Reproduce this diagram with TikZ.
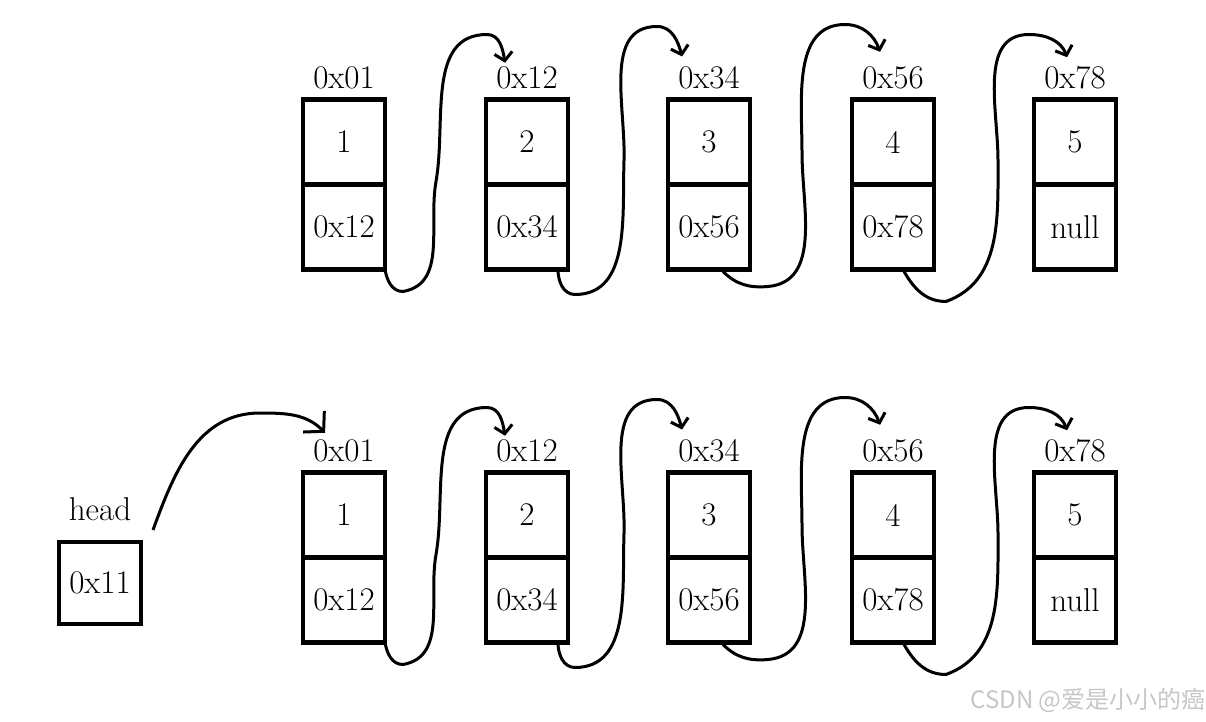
\documentclass[tikz,border=0pt]{standalone}
\usepackage{fontspec}
\newfontfamily\cjkfont{Noto Sans CJK SC}
\usetikzlibrary{positioning, arrows.meta}
\tikzset{
  cell/.style={
    draw,
    line width=4.5pt,
    minimum width=82pt,
    minimum height=85pt,
    inner sep=0pt,
    outer sep=0pt,
    font=\fontsize{33}{38}\selectfont
  },
  addr/.style={
    inner sep=0pt,
    font=\fontsize{33}{38}\selectfont
  },
  link/.style={
    line width=3pt,
    -{Straight Barb[length=8pt,width=18pt,line width=3pt]}
  }
}

\begin{document}
\begin{tikzpicture}[x=1pt, y=1pt]
  \useasboundingbox (0,0) rectangle (1206,721);

  % list without head
  \node[cell] (t1) at (344,579) {1};
  \node[cell, below=0pt of t1] (t1p) {0x12};
  \node[addr, above=10pt of t1] (t1a) {0x01};
  \node[cell] (t2) at (527,579) {2};
  \node[cell, below=0pt of t2] (t2p) {0x34};
  \node[addr, above=10pt of t2] (t2a) {0x12};
  \node[cell] (t3) at (709,579) {3};
  \node[cell, below=0pt of t3] (t3p) {0x56};
  \node[addr, above=10pt of t3] (t3a) {0x34};
  \node[cell] (t4) at (893,579) {4};
  \node[cell, below=0pt of t4] (t4p) {0x78};
  \node[addr, above=10pt of t4] (t4a) {0x56};
  \node[cell] (t5) at (1075,579) {5};
  \node[cell, below=0pt of t5] (t5p) {null};
  \node[addr, above=10pt of t5] (t5a) {0x78};

  % list with head
  \node[cell, minimum height=82pt] (h) at (100,138) {0x11};
  \node[addr, above=21pt of h] (ha) {head};
  \node[cell] (b1) at (344,206) {1};
  \node[cell, below=0pt of b1] (b1p) {0x12};
  \node[addr, above=10pt of b1] (b1a) {0x01};
  \node[cell] (b2) at (527,206) {2};
  \node[cell, below=0pt of b2] (b2p) {0x34};
  \node[addr, above=10pt of b2] (b2a) {0x12};
  \node[cell] (b3) at (709,206) {3};
  \node[cell, below=0pt of b3] (b3p) {0x56};
  \node[addr, above=10pt of b3] (b3a) {0x34};
  \node[cell] (b4) at (893,206) {4};
  \node[cell, below=0pt of b4] (b4p) {0x78};
  \node[addr, above=10pt of b4] (b4a) {0x56};
  \node[cell] (b5) at (1075,206) {5};
  \node[cell, below=0pt of b5] (b5p) {null};
  \node[addr, above=10pt of b5] (b5a) {0x78};

  % next pointers, same hand-drawn curves in both rows
  \foreach \r in {t,b} {
    \draw[link] (\r1p.south east) to[out=-80,in=180] ++(18,-22)
      to[out=10,in=-100] ++(33,110) to[out=80,in=180] ++(51,147)
      to[out=0,in=100] ([xshift=9pt,yshift=4pt]\r2a.north west);
    \draw[link] ([xshift=-10pt]\r2p.south east) to[out=-90,in=180] ++(17,-25)
      to[out=0,in=-92] ++(49,134) to[out=88,in=180] ++(33,134)
      to[out=0,in=105] ([xshift=4pt,yshift=10pt]\r3a.north west);
    \draw[link] ([xshift=-27pt,yshift=-2pt]\r3p.south east) to[out=-45,in=185] ++(45,-15)
      to[out=5,in=-90] ++(34,134) to[out=90,in=180] ++(43,128)
      to[out=0,in=110] ([xshift=18pt,yshift=15pt]\r4a.north west);
    \draw[link] ([xshift=-30pt,yshift=-2pt]\r4p.south east) to[out=-60,in=180] ++(42,-30)
      to[out=20,in=-90] ++(52,141) to[out=90,in=180] ++(31,126)
      to[out=0,in=110] ([xshift=23pt,yshift=9pt]\r5a.north west);
  }

  % head pointer
  \draw[line width=3pt, -{Straight Barb[length=14pt,width=30pt,line width=3pt]}]
    ([xshift=12pt,yshift=12pt]h.north east) to[out=70,in=180] ++(107,117)
    to[out=0,in=135] ([xshift=12pt,yshift=7pt]b1a.north west);

  \node[text=gray!45, font=\cjkfont\fontsize{24}{28}\selectfont] (mark) at (1088,21) {CSDN @爱是小小的癌};
\end{tikzpicture}
\end{document}
